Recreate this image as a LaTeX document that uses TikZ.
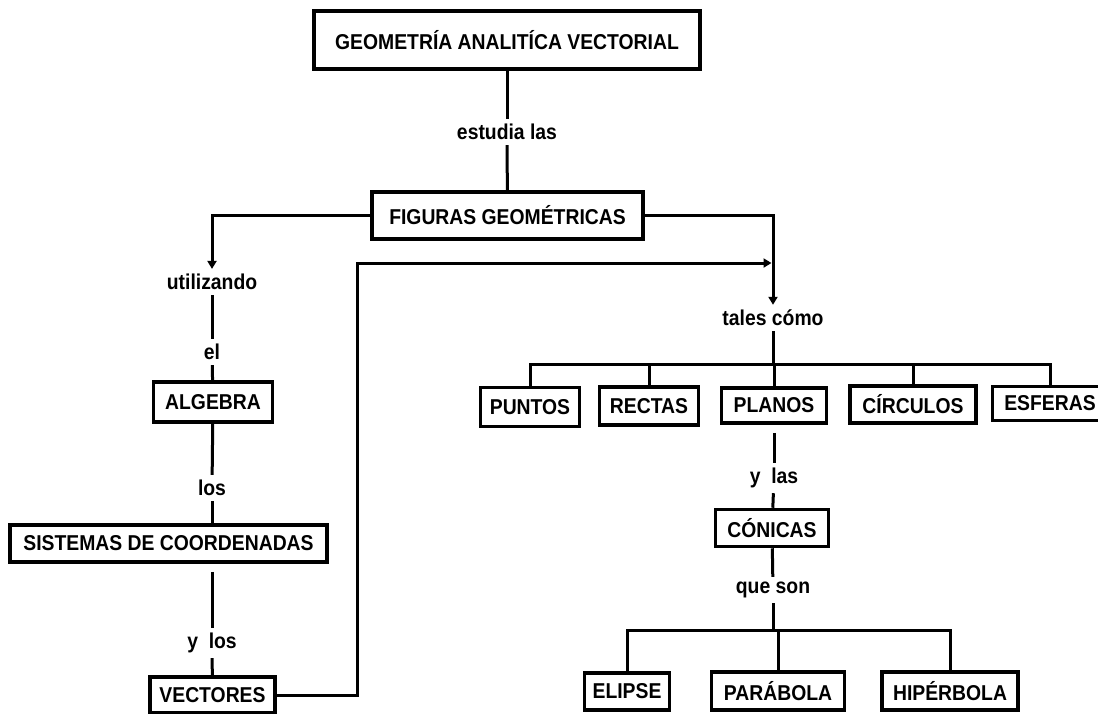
\documentclass[tikz,border=0pt]{standalone}
\usepackage{fontspec}
\setmainfont[FakeStretch=0.9]{Liberation Sans}
\usetikzlibrary{arrows.meta,positioning}

\begin{document}
\begin{tikzpicture}[x=1pt,y=-1pt]
					\tikzstyle{caja} = [
						draw,
						line width=3.5pt,
						inner sep=0pt,
						minimum height=37pt,
						font=\fontsize{21.5}{25}\selectfont\bfseries
					]
					\tikzstyle{enlace} = [
						inner xsep=2pt,
						inner ysep=5pt,
						font=\fontsize{21.5}{25}\selectfont\bfseries
					]
					\tikzstyle{linea} = [line width=3pt]
					\tikzstyle{flecha} = [line width=3pt, -{Triangle[length=8pt,width=9pt]}]

					\useasboundingbox (0,0) rectangle (1098,713);

					\node (geo) [style=caja, minimum width=386pt, minimum height=58pt] at (507,40) {GEOMETRÍA ANALITÍCA VECTORIAL};
					\node (estudia) [style=enlace] at (507,132) {estudia las};
					\node (figuras) [style=caja, minimum width=271pt, minimum height=47pt] at (507.5,215.5) {FIGURAS GEOMÉTRICAS};

					\node (utilizando) [style=enlace] at (212,282) {utilizando};
					\node (el) [style=enlace] at (212,352) {el};
					\node (algebra) [style=caja, minimum width=119pt, minimum height=40pt] at (213,402) {ALGEBRA};
					\node (los) [style=enlace] at (212,488) {los};
					\node (sistemas) [style=caja, minimum width=317pt] at (168.5,543.5) {SISTEMAS DE COORDENADAS};
					\node (ylos) [style=enlace] at (212,643) {y~~los};
					\node (vectores) [style=caja, minimum width=125pt, minimum height=36pt] at (212.5,695) {VECTORES};

					\node (tales) [style=enlace] at (773,318) {tales cómo};
					\node (puntos) [style=caja, minimum width=99pt, minimum height=39pt] at (530,407) {PUNTOS};
					\node (rectas) [style=caja, minimum width=99pt, minimum height=38pt] at (649,406) {RECTAS};
					\node (planos) [style=caja, minimum width=105pt, minimum height=35pt] at (774,405.5) {PLANOS};
					\node (circulos) [style=caja, minimum width=126pt] at (913,404.5) {CÍRCULOS};
					\node (esferas) [style=caja, minimum width=115pt, minimum height=34pt] at (1050,403.5) {ESFERAS};

					\node (ylas) [style=enlace] at (774,478) {y~~las};
					\node (conicas) [style=caja, minimum width=113pt] at (772,528) {CÓNICAS};
					\node (queson) [style=enlace] at (773,590) {que son};
					\node (elipse) [style=caja, minimum width=85pt] at (627,691.5) {ELIPSE};
					\node (parabola) [style=caja, minimum width=133pt, minimum height=38pt] at (778,691) {PARÁBOLA};
					\node (hiperbola) [style=caja, minimum width=136pt, minimum height=38pt] at (950,691) {HIPÉRBOLA};

					\coordinate (barra1) at (773,364);
					\coordinate (barra2) at (773,630);
					\coordinate (codo) at (357,263);
					\coordinate (union) at (771.5,263);

					\draw [style=linea] (geo) -- (estudia);
					\draw [style=linea] (estudia) -- (figuras);
					\draw [style=flecha] (figuras.west) -| (utilizando);
					\draw [style=flecha] (figuras.east) -| (tales);
					\draw [style=flecha] (vectores.east) -| (codo) -- (union);

					\draw [style=linea] (utilizando) -- (el);
					\draw [style=linea] (el) -- (algebra);
					\draw [style=linea] (algebra) -- (los);
					\draw [style=linea] (los) -- (los |- sistemas.north);
					\draw [style=linea, shorten <=8pt] (los |- sistemas.south) -- (ylos);
					\draw [style=linea] (ylos) -- (vectores);

					\draw [style=linea] (tales) -- (barra1);
					\draw [style=linea] (puntos.north) |- (barra1) -| (esferas.north);
					\foreach \n in {rectas,planos,circulos}
						\draw [style=linea] (\n.north) -- (\n.north |- barra1);
					\draw [style=linea, shorten <=8pt] (planos) -- (ylas);
					\draw [style=linea] (ylas) -- (conicas);
					\draw [style=linea] (conicas) -- (queson);
					\draw [style=linea] (queson) -- (barra2);
					\draw [style=linea] (elipse.north) |- (barra2) -| (hiperbola.north);
					\draw [style=linea] (parabola.north) -- (parabola.north |- barra2);

				\end{tikzpicture}
\end{document}
